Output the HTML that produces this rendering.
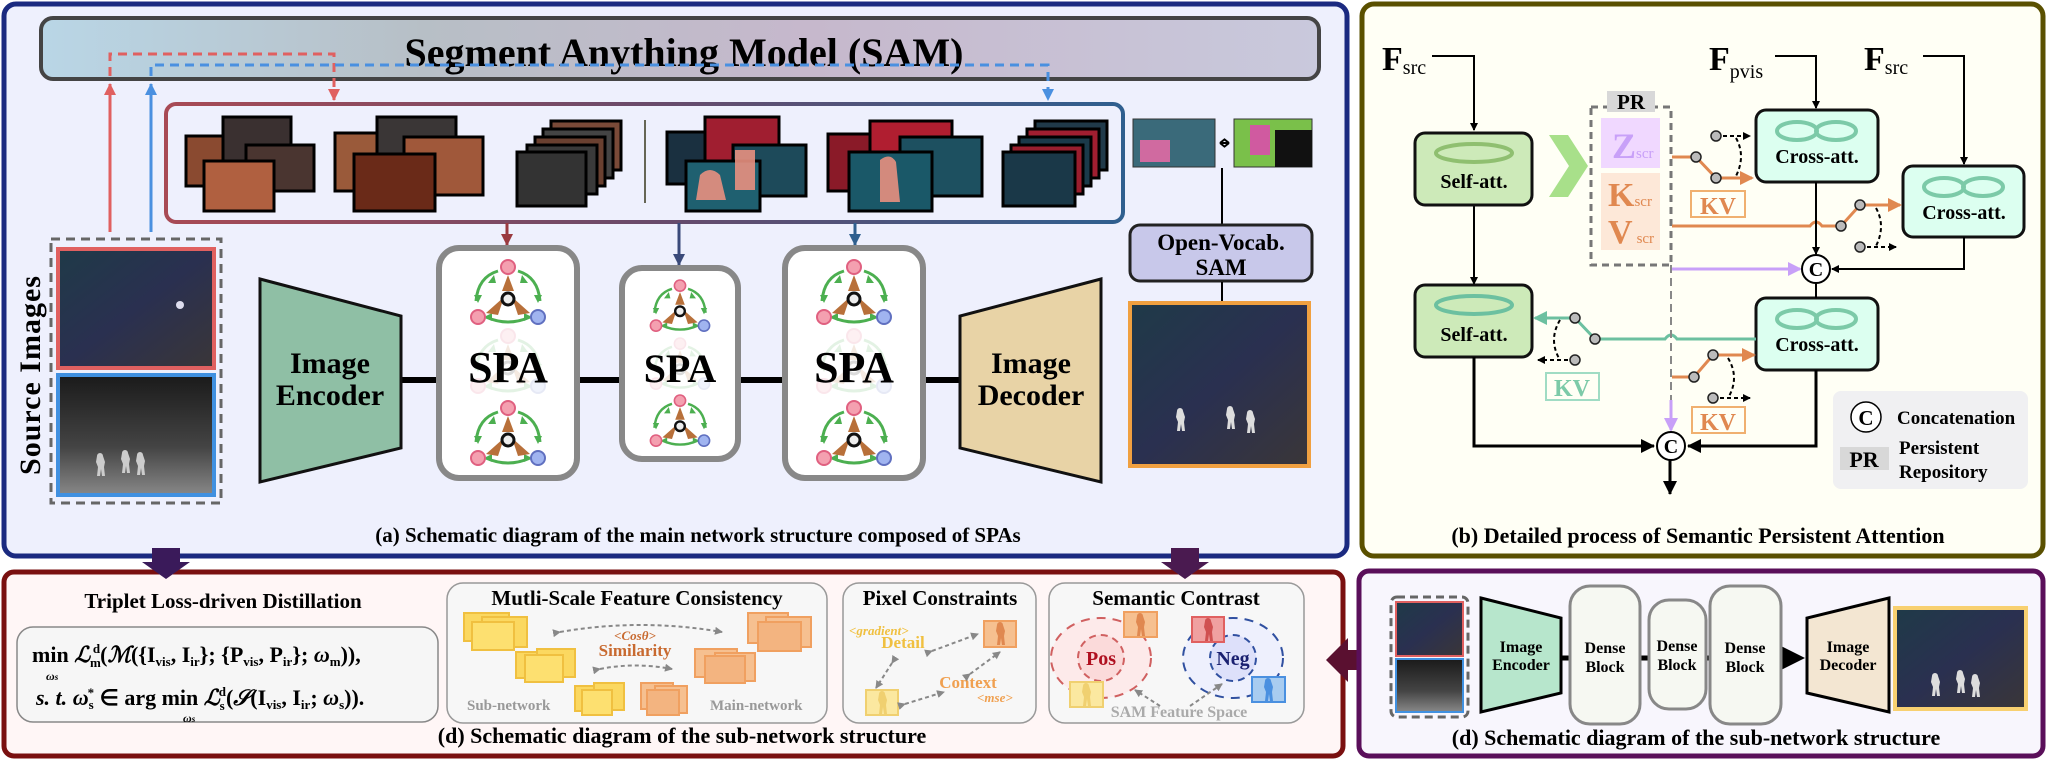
<!DOCTYPE html>
<html><head><meta charset="utf-8">
<style>
html,body{margin:0;padding:0;background:#fff;}
svg{display:block;font-family:"Liberation Serif",serif;}
text{font-family:"Liberation Serif",serif;font-weight:bold;}
</style></head><body>
<svg width="2048" height="760" viewBox="0 0 2048 760" xmlns="http://www.w3.org/2000/svg" font-family="Liberation Serif, serif">
<defs>
<linearGradient id="strip" x1="0" x2="1"><stop offset="0" stop-color="#a84a55"/><stop offset="0.5" stop-color="#6a4a6a"/><stop offset="1" stop-color="#2f5f8f"/></linearGradient>
<linearGradient id="sam" x1="0" x2="1"><stop offset="0" stop-color="#b9d6e6"/><stop offset="0.3" stop-color="#b7bfc6"/><stop offset="0.6" stop-color="#c6b8cc"/><stop offset="1" stop-color="#c9c9dc"/></linearGradient>
<linearGradient id="night" x1="0" y1="0" x2="1" y2="1"><stop offset="0" stop-color="#1f3a48"/><stop offset="0.5" stop-color="#2a3050"/><stop offset="1" stop-color="#3a3638"/></linearGradient>
<linearGradient id="ir" x1="0" y1="0" x2="0" y2="1"><stop offset="0" stop-color="#1a1a1a"/><stop offset="0.6" stop-color="#444"/><stop offset="1" stop-color="#888"/></linearGradient>
<marker id="ab" markerWidth="8" markerHeight="8" refX="7" refY="4" orient="auto" markerUnits="userSpaceOnUse"><path d="M0,0 L8,4 L0,8z" fill="#000"/></marker>
<marker id="abig" markerWidth="14" markerHeight="14" refX="13" refY="7" orient="auto" markerUnits="userSpaceOnUse"><path d="M0,0 L14,7 L0,14z" fill="#000"/></marker>
<marker id="ar" markerWidth="12" markerHeight="12" refX="11" refY="6" orient="auto" markerUnits="userSpaceOnUse"><path d="M0,0 L12,6 L0,12z" fill="#e06060"/></marker>
<marker id="abl" markerWidth="12" markerHeight="12" refX="11" refY="6" orient="auto" markerUnits="userSpaceOnUse"><path d="M0,0 L12,6 L0,12z" fill="#4a90e0"/></marker>
<marker id="ard" markerWidth="12" markerHeight="12" refX="11" refY="6" orient="auto" markerUnits="userSpaceOnUse"><path d="M0,0 L12,6 L0,12z" fill="#9a3a40"/></marker>
<marker id="anv" markerWidth="12" markerHeight="12" refX="11" refY="6" orient="auto" markerUnits="userSpaceOnUse"><path d="M0,0 L12,6 L0,12z" fill="#3a4a7a"/></marker>
<marker id="abd" markerWidth="12" markerHeight="12" refX="11" refY="6" orient="auto" markerUnits="userSpaceOnUse"><path d="M0,0 L12,6 L0,12z" fill="#2f5f8f"/></marker>
<marker id="aor" markerWidth="14" markerHeight="14" refX="12" refY="7" orient="auto" markerUnits="userSpaceOnUse"><path d="M0,0 L14,7 L0,14z" fill="#e08850"/></marker>
<marker id="ate" markerWidth="14" markerHeight="14" refX="12" refY="7" orient="auto" markerUnits="userSpaceOnUse"><path d="M0,0 L14,7 L0,14z" fill="#6cc0a0"/></marker>
<marker id="apu" markerWidth="14" markerHeight="14" refX="12" refY="7" orient="auto" markerUnits="userSpaceOnUse"><path d="M0,0 L14,7 L0,14z" fill="#c8a0f8"/></marker>
<marker id="agr" markerWidth="8" markerHeight="8" refX="7" refY="4" orient="auto" markerUnits="userSpaceOnUse"><path d="M0,0 L8,4 L0,8z" fill="#888"/></marker>
<g id="spa">
  <g fill="none" stroke="#4caf50" stroke-width="3">
    <path d="M-10,-24 Q-30,-18 -32,6"/>
    <path d="M10,-24 Q30,-18 32,6"/>
    <path d="M-22,22 Q0,32 22,22"/>
  </g>
  <path d="M-14,-20 l-6,8 l8,0z M14,-20 l6,8 l-8,0z M-34,0 l4,8 l4,-8z M34,0 l-4,8 l-4,-8z M-16,18 l-8,4 l8,4z M16,18 l8,4 l-8,4z" fill="#4caf50"/>
  <path d="M0,-20 L-6,-4 L6,-4z M-4,2 L-22,18 L-10,20z M4,2 L22,18 L10,20z" fill="#b8703a"/>
  <circle cx="0" cy="-28" r="7" fill="#f4a0b0" stroke="#e06080" stroke-width="2"/>
  <circle cx="-30" cy="22" r="7" fill="#f4a0b0" stroke="#e06080" stroke-width="2"/>
  <circle cx="30" cy="22" r="7" fill="#a0b4f0" stroke="#6070c0" stroke-width="2"/>
  <circle cx="0" cy="4" r="6" fill="#eee" stroke="#111" stroke-width="3"/>
</g>
<g id="fig"><path d="M-3,-9 a3,3 0 1,1 6,0 l2,6 l-1,5 l1,9 h-3 l-1,-7 l-1,7 h-3 l1,-9 l-2,-5z"/></g>
</defs>

<!-- PANEL A -->
<rect x="4" y="4" width="1343" height="552" rx="12" fill="#eef0fd" stroke="#1b2a80" stroke-width="5"/>
<rect x="41" y="18" width="1278" height="61" rx="12" fill="url(#sam)" stroke="#444" stroke-width="4"/>
<text x="684" y="66" font-size="40" text-anchor="middle" fill="#000">Segment Anything Model (SAM)</text>
<path d="M110,232 V84" stroke="#e06060" stroke-width="3" marker-end="url(#ar)"/>
<path d="M151,232 V84" stroke="#4a90e0" stroke-width="3" marker-end="url(#abl)"/>
<path d="M110,76 V54 H334 V100" fill="none" stroke="#e06060" stroke-width="3" stroke-dasharray="9,6" marker-end="url(#ar)"/>
<path d="M151,76 V65 H1048 V100" fill="none" stroke="#4a90e0" stroke-width="3" stroke-dasharray="9,6" marker-end="url(#abl)"/>
<rect x="166" y="104" width="957" height="118" rx="10" fill="#eef0fd" stroke="url(#strip)" stroke-width="4"/>
<line x1="645" y1="120" x2="645" y2="203" stroke="#665" stroke-width="2"/>
<g stroke="#000" stroke-width="3">
<rect x="186" y="136" width="39" height="50" fill="#8a4a30"/>
<rect x="223" y="117" width="68" height="69" fill="#3a3030"/>
<rect x="246" y="145" width="68" height="46" fill="#4a3530"/>
<rect x="204" y="161" width="70" height="50" fill="#b06040"/>
<rect x="335" y="133" width="44" height="58" fill="#9a5a3a"/>
<rect x="377" y="117" width="79" height="72" fill="#3a3636"/>
<rect x="404" y="137" width="79" height="58" fill="#a0583a"/>
<rect x="354" y="154" width="81" height="57" fill="#6a2a18"/>
<rect x="551" y="121" width="70" height="49" fill="#7a4a38"/>
<rect x="543" y="129" width="70" height="49" fill="#444"/>
<rect x="535" y="137" width="70" height="49" fill="#6a4030"/>
<rect x="527" y="145" width="70" height="49" fill="#3a3a3a"/>
<rect x="517" y="152" width="69" height="54" fill="#333"/>
<rect x="667" y="132" width="38" height="52" fill="#1a3040"/>
<rect x="705" y="117" width="74" height="69" fill="#a01e30"/>
<rect x="733" y="145" width="73" height="51" fill="#1d4a5a"/>
<rect x="686" y="161" width="74" height="50" fill="#1f6070"/>
<rect x="828" y="134" width="42" height="57" fill="#8a1a28"/>
<rect x="870" y="121" width="82" height="70" fill="#b01e30"/>
<rect x="900" y="137" width="82" height="59" fill="#1d5060"/>
<rect x="849" y="152" width="83" height="59" fill="#1a5868"/>
<rect x="1035" y="121" width="72" height="49" fill="#203a4a"/>
<rect x="1027" y="129" width="72" height="49" fill="#a01e30"/>
<rect x="1019" y="137" width="72" height="49" fill="#1a3a4a"/>
<rect x="1011" y="145" width="72" height="49" fill="#9a1e2e"/>
<rect x="1003" y="152" width="72" height="54" fill="#1a3848"/>
</g>
<g fill="#e89080" opacity="0.9">
<path d="M700,175 q10,-10 20,0 l6,25 h-30z M735,150 h20 v40 h-20z M880,160 q10,-8 16,2 l4,40 h-20z"/>
</g>
<path d="M507,223 V245" stroke="#9a3a40" stroke-width="3" marker-end="url(#ard)"/>
<path d="M679,223 V265" stroke="#3a4a7a" stroke-width="3" marker-end="url(#anv)"/>
<path d="M855,223 V245" stroke="#2f5f8f" stroke-width="3" marker-end="url(#abd)"/>

<text transform="translate(40,375) rotate(-90)" font-size="30" text-anchor="middle" fill="#000" letter-spacing="1">Source Images</text>
<rect x="51" y="239" width="170" height="264" fill="none" stroke="#666" stroke-width="3" stroke-dasharray="9,6"/>
<rect x="58" y="249" width="156" height="119" fill="url(#night)" stroke="#e06060" stroke-width="4"/>
<rect x="58" y="375" width="156" height="120" fill="url(#ir)" stroke="#4090e0" stroke-width="4"/>
<circle cx="180" cy="305" r="4" fill="#dde"/>
<g fill="#ccc"><use href="#fig" x="100" y="465"/><use href="#fig" x="125" y="462"/><use href="#fig" x="140" y="464"/></g>

<line x1="401" y1="380" x2="960" y2="380" stroke="#000" stroke-width="6"/>
<path d="M260,279 L401,316 L401,448 L260,482z" fill="#8fbfa5" stroke="#111" stroke-width="3"/>
<text x="330" y="373" font-size="30" text-anchor="middle">Image</text>
<text x="330" y="405" font-size="30" text-anchor="middle">Encoder</text>
<path d="M1101,279 L960,316 L960,448 L1101,482z" fill="#e8d3a6" stroke="#111" stroke-width="3"/>
<text x="1031" y="373" font-size="30" text-anchor="middle">Image</text>
<text x="1031" y="405" font-size="30" text-anchor="middle">Decoder</text>

<rect x="439" y="248" width="138" height="230" rx="20" fill="#fff" stroke="#888" stroke-width="6"/>
<rect x="622" y="268" width="116" height="191" rx="20" fill="#fff" stroke="#888" stroke-width="6"/>
<rect x="785" y="248" width="138" height="230" rx="20" fill="#fff" stroke="#888" stroke-width="6"/>
<use href="#spa" x="508" y="295"/><use href="#spa" x="508" y="436"/>
<use href="#spa" x="854" y="295"/><use href="#spa" x="854" y="436"/>
<use href="#spa" transform="translate(680,308) scale(0.8)"/><use href="#spa" transform="translate(680,423) scale(0.8)"/>
<g opacity="0.15"><use href="#spa" x="508" y="364"/><use href="#spa" x="854" y="364"/><use href="#spa" transform="translate(680,366) scale(0.8)"/></g>
<text x="508" y="382" font-size="44" text-anchor="middle">SPA</text>
<text x="680" y="382" font-size="40" text-anchor="middle">SPA</text>
<text x="854" y="382" font-size="44" text-anchor="middle">SPA</text>

<rect x="1133" y="119" width="82" height="48" fill="#3a6a7a" stroke="#333" stroke-width="1"/>
<rect x="1140" y="140" width="30" height="22" fill="#d06aa0"/>
<rect x="1234" y="119" width="78" height="48" fill="#7ac04a" stroke="#333" stroke-width="1"/>
<rect x="1275" y="130" width="37" height="37" fill="#111"/><rect x="1250" y="125" width="20" height="30" fill="#d05aa0"/>
<path d="M1220,143 H1229 M1220,143 l5,-4 M1220,143 l5,4 M1229,143 l-5,-4 M1229,143 l-5,4" stroke="#000" stroke-width="2" fill="none"/>
<path d="M1222,168 V226" stroke="#000" stroke-width="2"/>
<rect x="1130" y="225" width="182" height="56" rx="10" fill="#c8c8ea" stroke="#222" stroke-width="3"/>
<text x="1221" y="250" font-size="23" text-anchor="middle">Open-Vocab.</text>
<text x="1221" y="275" font-size="23" text-anchor="middle">SAM</text>
<path d="M1222,282 V303" stroke="#000" stroke-width="2"/>
<rect x="1130" y="303" width="179" height="163" fill="url(#night)" stroke="#f0a040" stroke-width="4"/>
<g fill="#ddd"><use href="#fig" x="1180" y="420"/><use href="#fig" x="1230" y="418"/><use href="#fig" x="1250" y="422"/></g>
<text x="698" y="542" font-size="21" text-anchor="middle">(a) Schematic diagram of the main network structure composed of SPAs</text>

<!-- PANEL B -->
<rect x="1362" y="4" width="681" height="552" rx="12" fill="#fffff5" stroke="#5a5000" stroke-width="5"/>
<text x="1382" y="70" font-size="34">F<tspan font-size="20" font-weight="normal" dy="4">src</tspan></text>
<text x="1709" y="70" font-size="34">F<tspan font-size="20" font-weight="normal" dy="8">pvis</tspan></text>
<text x="1864" y="70" font-size="34">F<tspan font-size="20" font-weight="normal" dy="4">src</tspan></text>
<g fill="none" stroke="#000" stroke-width="2">
<path d="M1432,56 H1474 V130" marker-end="url(#ab)"/>
<path d="M1775,56 H1816 V108" marker-end="url(#ab)"/>
<path d="M1923,56 H1964 V164" marker-end="url(#ab)"/>
<path d="M1474,205 V284" marker-end="url(#ab)"/>
</g>
<rect x="1415" y="133" width="117" height="72" rx="10" fill="#cdeab9" stroke="#111" stroke-width="3"/>
<ellipse cx="1474" cy="153" rx="38" ry="9" fill="none" stroke="#8fbf70" stroke-width="4"/>
<text x="1474" y="188" font-size="20" text-anchor="middle">Self-att.</text>
<rect x="1415" y="285" width="117" height="72" rx="10" fill="#cdeab9" stroke="#111" stroke-width="3"/>
<ellipse cx="1474" cy="305" rx="38" ry="9" fill="none" stroke="#6cc0a0" stroke-width="4"/>
<text x="1474" y="341" font-size="20" text-anchor="middle">Self-att.</text>
<path d="M1549,135 H1568 L1588,166 L1568,197 H1549 L1569,166z" fill="#a8e08a"/>
<rect x="1591" y="107" width="80" height="158" fill="none" stroke="#777" stroke-width="3" stroke-dasharray="7,5"/>
<rect x="1607" y="91" width="48" height="21" fill="#d8d8d8"/>
<text x="1631" y="109" font-size="21" text-anchor="middle">PR</text>
<rect x="1601" y="118" width="59" height="50" fill="#f0d8ff"/>
<text x="1612" y="158" font-size="36" fill="#c8a0f8">Z<tspan font-size="15" font-weight="normal" fill="#c8a0f8">scr</tspan></text>
<rect x="1601" y="173" width="59" height="77" fill="#fde8d8"/>
<text x="1608" y="206" font-size="34" fill="#e08850">K<tspan font-size="15" font-weight="normal">scr</tspan></text>
<text x="1608" y="243" font-size="34" fill="#e08850">V<tspan font-size="15" font-weight="normal" dx="4">scr</tspan></text>

<g fill="#dcfff0" stroke="#111" stroke-width="3">
<rect x="1756" y="110" width="122" height="72" rx="10"/>
<rect x="1903" y="166" width="121" height="71" rx="10"/>
<rect x="1756" y="298" width="122" height="72" rx="10"/>
</g>
<g fill="none" stroke="#7ccaa8" stroke-width="4">
<ellipse cx="1797" cy="131" rx="20" ry="9"/><ellipse cx="1836" cy="131" rx="20" ry="9"/>
<ellipse cx="1944" cy="187" rx="20" ry="9"/><ellipse cx="1983" cy="187" rx="20" ry="9"/>
<ellipse cx="1797" cy="319" rx="20" ry="9"/><ellipse cx="1836" cy="319" rx="20" ry="9"/>
</g>
<text x="1817" y="163" font-size="20" text-anchor="middle">Cross-att.</text>
<text x="1964" y="219" font-size="20" text-anchor="middle">Cross-att.</text>
<text x="1817" y="351" font-size="20" text-anchor="middle">Cross-att.</text>

<g fill="none" stroke-width="3">
<path d="M1672,157 H1696 L1716,178 H1752" stroke="#e08850" marker-end="url(#aor)"/>
<path d="M1672,226 H1810 q6,-8 12,0 H1841 L1860,205 H1900" stroke="#e08850" marker-end="url(#aor)"/>
<path d="M1672,377 H1694 L1713,355 H1754" stroke="#e08850" marker-end="url(#aor)"/>
<path d="M1756,339 H1677 q-6,-8 -12,0 H1595 L1575,318 H1535" stroke="#6cc0a0" marker-end="url(#ate)"/>
<path d="M1672,269 H1800" stroke="#c8a0f8" marker-end="url(#apu)"/>
<path d="M1671,265 V400" stroke="#888" stroke-width="2" stroke-dasharray="8,5"/>
<path d="M1671,400 V430" stroke="#c8a0f8" marker-end="url(#apu)"/>
</g>
<g fill="none" stroke="#000" stroke-width="2" stroke-dasharray="4,3">
<path d="M1716,136 H1750" marker-end="url(#ab)"/><path d="M1736,138 q10,18 0,38"/>
<path d="M1860,247 H1896" marker-end="url(#ab)"/><path d="M1876,208 q10,18 0,38"/>
<path d="M1713,398 H1750" marker-end="url(#ab)"/><path d="M1728,358 q12,20 0,40"/>
<path d="M1575,360 H1538" marker-end="url(#ab)"/><path d="M1560,320 q-12,20 0,40"/>
</g>
<g fill="#bbb" stroke="#222" stroke-width="1.5">
<circle cx="1696" cy="157" r="5"/><circle cx="1716" cy="178" r="5"/><circle cx="1716" cy="136" r="5"/>
<circle cx="1841" cy="226" r="5"/><circle cx="1860" cy="205" r="5"/><circle cx="1860" cy="247" r="5"/>
<circle cx="1694" cy="377" r="5"/><circle cx="1713" cy="355" r="5"/><circle cx="1713" cy="398" r="5"/>
<circle cx="1595" cy="339" r="5"/><circle cx="1575" cy="318" r="5"/><circle cx="1575" cy="360" r="5"/>
</g>
<rect x="1691" y="191" width="54" height="26" fill="none" stroke="#f0b070" stroke-width="2"/>
<text x="1718" y="214" font-size="24" text-anchor="middle" fill="#e08850">KV</text>
<rect x="1692" y="407" width="53" height="26" fill="none" stroke="#f0b070" stroke-width="2"/>
<text x="1718" y="430" font-size="24" text-anchor="middle" fill="#e08850">KV</text>
<rect x="1546" y="373" width="53" height="27" fill="none" stroke="#a0dcc4" stroke-width="2"/>
<text x="1572" y="396" font-size="24" text-anchor="middle" fill="#7ccaa8">KV</text>

<g fill="none" stroke="#000" stroke-width="2">
<path d="M1816,182 V254" marker-end="url(#ab)"/>
<path d="M1964,237 V269 H1832" marker-end="url(#ab)"/>
<path d="M1816,283 V298"/>
</g>
<g fill="none" stroke="#000" stroke-width="3">
<path d="M1474,357 V446 H1654" marker-end="url(#abig)"/>
<path d="M1816,370 V446 H1688" marker-end="url(#abig)"/>
<path d="M1670,460 V494" marker-end="url(#abig)"/>
</g>
<circle cx="1816" cy="269" r="14" fill="#fff" stroke="#000" stroke-width="2"/>
<text x="1816" y="276" font-size="20" text-anchor="middle" font-weight="normal">C</text>
<circle cx="1671" cy="446" r="14" fill="#fff" stroke="#000" stroke-width="2"/>
<text x="1671" y="453" font-size="20" text-anchor="middle" font-weight="normal">C</text>
<rect x="1833" y="391" width="195" height="98" rx="8" fill="#f0f0f2"/>
<circle cx="1866" cy="417" r="15" fill="#fff" stroke="#000" stroke-width="1.5"/>
<text x="1866" y="425" font-size="21" text-anchor="middle" font-weight="normal">C</text>
<text x="1897" y="424" font-size="19">Concatenation</text>
<rect x="1840" y="447" width="49" height="23" fill="#d8d8d8"/>
<text x="1864" y="467" font-size="22" text-anchor="middle">PR</text>
<text x="1899" y="454" font-size="19">Persistent</text>
<text x="1899" y="478" font-size="19">Repository</text>
<text x="1698" y="543" font-size="22" text-anchor="middle">(b) Detailed process of Semantic Persistent Attention</text>

<!-- PANEL D LEFT -->
<rect x="4" y="572" width="1339" height="184" rx="10" fill="#fff6f6" stroke="#7a1010" stroke-width="5"/>
<path d="M152,548 h28 v14 h10 l-24,17 l-24,-17 h10z" fill="#3a1a5a"/>
<path d="M1171,548 h28 v14 h10 l-24,17 l-24,-17 h10z" fill="#4a1a50"/>
<text x="223" y="608" font-size="21" text-anchor="middle">Triplet Loss-driven Distillation</text>
<rect x="17" y="627" width="421" height="95" rx="16" fill="#f6f6f6" stroke="#888" stroke-width="1.5"/>
<text x="32" y="662" font-size="22" font-weight="normal">min <tspan font-style="italic">ℒ</tspan><tspan font-size="13" dy="5">m</tspan><tspan font-size="13" dx="-8" dy="-14">d</tspan><tspan dy="9">(</tspan><tspan font-style="italic">ℳ</tspan>({<tspan font-weight="bold">I</tspan><tspan font-size="13" dy="4">vis</tspan><tspan dy="-4">, </tspan><tspan font-weight="bold">I</tspan><tspan font-size="13" dy="4">ir</tspan><tspan dy="-4">}; {</tspan><tspan font-weight="bold">P</tspan><tspan font-size="13" dy="4">vis</tspan><tspan dy="-4">, </tspan><tspan font-weight="bold">P</tspan><tspan font-size="13" dy="4">ir</tspan><tspan dy="-4">}; </tspan><tspan font-weight="bold" font-style="italic">ω</tspan><tspan font-size="13" font-weight="bold" dy="4">m</tspan><tspan dy="-4">)),</tspan></text>
<text x="46" y="680" font-size="12" font-weight="normal" font-style="italic">ω<tspan font-size="9">s</tspan></text>
<text x="36" y="705" font-size="22" font-weight="normal"><tspan font-style="italic">s. t.</tspan> <tspan font-weight="bold" font-style="italic">ω</tspan><tspan font-size="13" font-weight="bold" dy="4">s</tspan><tspan font-size="13" dx="-6" dy="-12">*</tspan><tspan dy="8"> ∈ arg min </tspan><tspan font-style="italic">ℒ</tspan><tspan font-size="13" dy="5">s</tspan><tspan font-size="13" dx="-6" dy="-14">d</tspan><tspan dy="9">(</tspan><tspan font-style="italic">𝒮</tspan>(<tspan font-weight="bold">I</tspan><tspan font-size="13" dy="4">vis</tspan><tspan dy="-4">, </tspan><tspan font-weight="bold">I</tspan><tspan font-size="13" dy="4">ir</tspan><tspan dy="-4">; </tspan><tspan font-weight="bold" font-style="italic">ω</tspan><tspan font-size="13" font-weight="bold" dy="4">s</tspan><tspan dy="-4">)).</tspan></text>
<text x="183" y="722" font-size="12" font-weight="normal" font-style="italic">ω<tspan font-size="9">s</tspan></text>

<g fill="#f7f7f7" stroke="#999" stroke-width="1.5">
<rect x="447" y="583" width="380" height="140" rx="16"/>
<rect x="843" y="583" width="193" height="140" rx="16"/>
<rect x="1049" y="583" width="255" height="140" rx="16"/>
</g>
<text x="637" y="605" font-size="21" text-anchor="middle">Mutli-Scale Feature Consistency</text>
<text x="940" y="605" font-size="21" text-anchor="middle">Pixel Constraints</text>
<text x="1176" y="605" font-size="21" text-anchor="middle">Semantic Contrast</text>
<g stroke="#f0c040" stroke-width="2" fill="#fbd860">
<rect x="464" y="613" width="45" height="28"/><rect x="482" y="617" width="45" height="30"/><rect x="472" y="622" width="42" height="28" fill="#fde070"/>
<rect x="516" y="652" width="38" height="26"/><rect x="537" y="649" width="38" height="28"/><rect x="525" y="655" width="38" height="27" fill="#fde070"/>
<rect x="575" y="686" width="30" height="25"/><rect x="594" y="683" width="30" height="27"/><rect x="582" y="690" width="30" height="25" fill="#fde070"/>
</g>
<g stroke="#f0a060" stroke-width="2" fill="#f6c090">
<rect x="748" y="613" width="40" height="30"/><rect x="766" y="617" width="45" height="30"/><rect x="758" y="622" width="43" height="29" fill="#f3b480"/>
<rect x="695" y="649" width="42" height="28"/><rect x="715" y="653" width="40" height="28"/><rect x="705" y="656" width="40" height="27" fill="#f3b480"/>
<rect x="641" y="683" width="32" height="26"/><rect x="655" y="686" width="32" height="27"/><rect x="647" y="690" width="32" height="25" fill="#f3b480"/>
</g>
<g fill="none" stroke="#888" stroke-width="2" stroke-dasharray="4,3">
<path d="M560,632 Q640,618 722,632" marker-end="url(#agr)" marker-start="url(#agr)"/>
<path d="M600,669 Q635,662 672,669" marker-end="url(#agr)" marker-start="url(#agr)"/>
</g>
<text x="635" y="640" font-size="13" font-style="italic" text-anchor="middle" fill="#c86a30">&lt;Cosθ&gt;</text>
<text x="635" y="656" font-size="17" text-anchor="middle" fill="#c86a30">Similarity</text>
<text x="467" y="710" font-size="15" fill="#999">Sub-network</text>
<text x="710" y="710" font-size="15" fill="#999">Main-network</text>

<text x="849" y="635" font-size="13" font-style="italic" fill="#f0c040" font-weight="normal">&lt;gradient&gt;</text>
<text x="903" y="648" font-size="17" text-anchor="middle" fill="#f0c040">Detail</text>
<rect x="984" y="621" width="32" height="26" fill="#f6c090" stroke="#f0a060" stroke-width="2"/>
<use href="#fig" x="1000" y="634" fill="#e08850"/>
<rect x="866" y="690" width="32" height="25" fill="#fbe8a0" stroke="#f0d070" stroke-width="2"/>
<use href="#fig" x="882" y="703" fill="#f0d070"/>
<text x="968" y="688" font-size="17" text-anchor="middle" fill="#f0a050">Context</text>
<text x="977" y="702" font-size="13" font-style="italic" fill="#f0a050" font-weight="normal">&lt;mse&gt;</text>
<g fill="none" stroke="#888" stroke-width="2" stroke-dasharray="4,3">
<path d="M932,651 L978,634" marker-end="url(#agr)" marker-start="url(#agr)"/>
<path d="M892,663 L876,688" marker-end="url(#agr)" marker-start="url(#agr)"/>
<path d="M970,674 L1000,652" marker-end="url(#agr)" marker-start="url(#agr)"/>
<path d="M905,704 L944,692" marker-end="url(#agr)" marker-start="url(#agr)"/>
</g>

<ellipse cx="1101" cy="658" rx="50" ry="40" fill="#fdeaea" stroke="#d06060" stroke-width="2" stroke-dasharray="9,7"/>
<circle cx="1101" cy="658" r="23" fill="#fbdada" stroke="#d06060" stroke-width="2" stroke-dasharray="7,5"/>
<text x="1101" y="665" font-size="20" text-anchor="middle" fill="#b01020">Pos</text>
<ellipse cx="1233" cy="658" rx="50" ry="40" fill="#eef0fd" stroke="#3050a0" stroke-width="2" stroke-dasharray="9,7"/>
<circle cx="1233" cy="658" r="23" fill="#dde0fa" stroke="#3050a0" stroke-width="2" stroke-dasharray="7,5"/>
<text x="1233" y="665" font-size="20" text-anchor="middle" fill="#1a2070">Neg</text>
<rect x="1124" y="612" width="33" height="25" fill="#f6c090" stroke="#f0a060" stroke-width="2"/><use href="#fig" x="1140" y="625" fill="#e08850"/>
<rect x="1192" y="617" width="32" height="25" fill="#f0a0a0" stroke="#e06060" stroke-width="2"/><use href="#fig" x="1208" y="630" fill="#d05050"/>
<rect x="1070" y="682" width="33" height="25" fill="#fbe8a0" stroke="#f0d070" stroke-width="2"/><use href="#fig" x="1086" y="695" fill="#f0d070"/>
<rect x="1252" y="677" width="33" height="25" fill="#a8ccf0" stroke="#4a90e0" stroke-width="2"/><use href="#fig" x="1268" y="690" fill="#4a90e0"/>
<g fill="none" stroke="#888" stroke-width="2" stroke-dasharray="4,3">
<path d="M1160,706 L1135,690" marker-end="url(#agr)"/><path d="M1190,706 L1222,684" marker-end="url(#agr)"/>
</g>
<text x="1179" y="717" font-size="16" text-anchor="middle" fill="#aaa">SAM Feature Space</text>
<text x="682" y="743" font-size="22" text-anchor="middle">(d) Schematic diagram of the sub-network structure</text>
<path d="M1360,650 h-12 v-12 l-22,22 l22,22 v-12 h12z" fill="#5a1030"/>

<!-- PANEL D RIGHT -->
<rect x="1359" y="571" width="684" height="185" rx="10" fill="#f8f6fd" stroke="#5a0f5a" stroke-width="5"/>
<rect x="1391" y="597" width="77" height="120" rx="6" fill="none" stroke="#666" stroke-width="3" stroke-dasharray="8,5"/>
<rect x="1396" y="602" width="67" height="54" fill="url(#night)" stroke="#e06060" stroke-width="2"/>
<rect x="1396" y="659" width="67" height="53" fill="url(#ir)" stroke="#4090e0" stroke-width="2"/>
<line x1="1561" y1="658" x2="1790" y2="658" stroke="#000" stroke-width="5"/>
<path d="M1781,646 L1805,658 L1781,670z" fill="#000"/>
<path d="M1481,598 L1561,618 L1561,693 L1481,712z" fill="#b7e6cc" stroke="#000" stroke-width="3"/>
<text x="1521" y="652" font-size="16" text-anchor="middle">Image</text>
<text x="1521" y="670" font-size="16" text-anchor="middle">Encoder</text>
<g fill="#f6f8f2" stroke="#888" stroke-width="3">
<rect x="1570" y="586" width="70" height="138" rx="20"/>
<rect x="1649" y="600" width="57" height="109" rx="20"/>
<rect x="1710" y="586" width="71" height="138" rx="20"/>
</g>
<text x="1605" y="653" font-size="16" text-anchor="middle">Dense</text><text x="1605" y="672" font-size="16" text-anchor="middle">Block</text>
<text x="1677" y="651" font-size="16" text-anchor="middle">Dense</text><text x="1677" y="670" font-size="16" text-anchor="middle">Block</text>
<text x="1745" y="653" font-size="16" text-anchor="middle">Dense</text><text x="1745" y="672" font-size="16" text-anchor="middle">Block</text>
<path d="M1889,598 L1807,618 L1807,693 L1889,712z" fill="#f3e6d2" stroke="#000" stroke-width="3"/>
<text x="1848" y="652" font-size="16" text-anchor="middle">Image</text>
<text x="1848" y="670" font-size="16" text-anchor="middle">Decoder</text>
<rect x="1895" y="608" width="131" height="101" fill="url(#night)" stroke="#f8d070" stroke-width="4"/>
<g fill="#ddd"><use href="#fig" x="1935" y="685"/><use href="#fig" x="1960" y="682"/><use href="#fig" x="1975" y="686"/></g>
<text x="1696" y="745" font-size="22" text-anchor="middle">(d) Schematic diagram of the sub-network structure</text>
</svg>
</body></html>
